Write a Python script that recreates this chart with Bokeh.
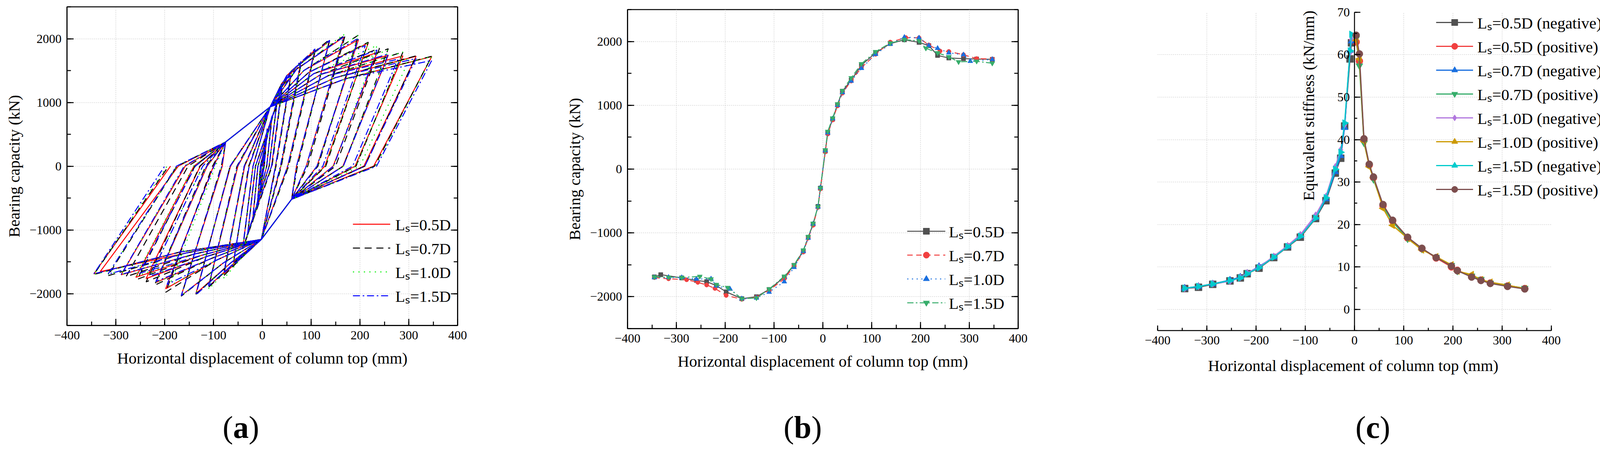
#!/usr/bin/env python3

import math

from bokeh.embed import file_html
from bokeh.layouts import column, row
from bokeh.models import (
    CustomJSTickFormatter,
    Div,
    FixedTicker,
    Label,
    Legend,
    LegendItem,
    LinearAxis,
    Range1d,
    SingleIntervalTicker,
    Title,
)
from bokeh.plotting import figure
from bokeh.resources import INLINE

FONT = "Liberation Serif"
labels = ["L\u209b=0.5D", "L\u209b=0.7D", "L\u209b=1.0D", "L\u209b=1.5D"]

# skeleton points per loading cycle (small -> large amplitude)
pos_d_05 = [5, 10, 20, 30, 40, 58, 79, 108, 138, 167, 197, 217, 235, 258, 288, 315, 347]
pos_f_05 = [282, 567, 782, 1010, 1220, 1394, 1629, 1822, 1967, 2027, 1986, 1935, 1782, 1741, 1731, 1725, 1720]
neg_d_05 = [-5, -10, -20, -30, -40, -59, -79, -110, -136, -166, -198, -218, -238, -259, -289, -332, -345]
neg_f_05 = [-299, -586, -863, -1068, -1283, -1508, -1693, -1887, -2000, -2031, -1924, -1826, -1764, -1745, -1705, -1655, -1690]

pos_d_07 = [5, 10, 20, 30, 40, 58, 79, 108, 138, 170, 197, 217, 240, 258, 288, 315, 347]
pos_f_07 = [270, 550, 770, 990, 1190, 1380, 1590, 1800, 1990, 2060, 2057, 1945, 1850, 1843, 1792, 1731, 1725]
neg_d_07 = [-5, -10, -20, -30, -40, -59, -79, -110, -136, -166, -198, -221, -238, -256, -279, -316, -345]
neg_f_07 = [-310, -600, -880, -1080, -1300, -1520, -1720, -1900, -2010, -2040, -1980, -1870, -1816, -1775, -1734, -1719, -1700]

pos_d_10 = [5, 10, 20, 30, 40, 58, 79, 108, 138, 167, 197, 217, 235, 258, 288, 302, 347]
pos_f_10 = [290, 570, 790, 1000, 1200, 1380, 1580, 1800, 1960, 2067, 2057, 1935, 1894, 1822, 1792, 1690, 1720]
neg_d_10 = [-5, -10, -20, -30, -40, -59, -79, -110, -136, -166, -190, -218, -229, -259, -289, -316, -345]
neg_f_10 = [-290, -590, -860, -1080, -1290, -1540, -1764, -1928, -2020, -2031, -1880, -1830, -1720, -1723, -1699, -1695, -1700]

pos_d_15 = [5, 10, 20, 30, 40, 58, 79, 108, 138, 167, 197, 211, 235, 258, 278, 315, 347]
pos_f_15 = [300, 590, 800, 1020, 1230, 1430, 1650, 1840, 1975, 2030, 2010, 1894, 1822, 1760, 1680, 1690, 1659]
neg_d_15 = [-5, -10, -20, -30, -40, -59, -79, -110, -136, -166, -195, -218, -229, -252, -289, -316, -345]
neg_f_15 = [-300, -590, -850, -1060, -1270, -1500, -1680, -1880, -2020, -2031, -1857, -1810, -1723, -1682, -1699, -1695, -1690]

# zero-load crossings after unloading from the positive / negative peak of each cycle
rp_05 = [2, 4, 9, 14, 19, 27, 38, 52, 70, 90, 112, 128, 145, 165, 190, 208, 228]
rn_05 = [-2, -4, -9, -14, -19, -27, -36, -50, -65, -82, -100, -113, -127, -140, -158, -172, -188]
rp_07 = [2, 4, 9, 14, 20, 28, 39, 54, 72, 93, 114, 130, 150, 166, 192, 210, 230]
rn_07 = [-2, -4, -9, -14, -19, -28, -37, -52, -66, -84, -102, -116, -128, -138, -152, -175, -192]
rp_10 = [2, 4, 9, 14, 19, 27, 38, 53, 71, 91, 113, 129, 146, 166, 192, 200, 232]
rn_10 = [-2, -4, -9, -14, -19, -27, -37, -51, -66, -83, -96, -114, -122, -141, -160, -174, -195]
rp_15 = [2, 4, 9, 14, 19, 27, 37, 52, 70, 90, 112, 124, 146, 166, 185, 210, 234]
rn_15 = [-2, -4, -9, -14, -19, -27, -37, -51, -66, -83, -99, -114, -122, -137, -160, -176, -200]

# pinching points and branch bends shared by the loops (cycles 6..17)
pinch_up = (-75, 380)
knee_up = (16, 930)
pinch_dn = (60, -520)
knee_dn = (-2, -1150)
first_bend = 5
bend_up_x = [33, 40, 50, 60, 70, 85, 95, 105, 120, 135, 150, 170]
bend_up_y = [1190, 1300, 1420, 1500, 1520, 1500, 1470, 1450, 1440, 1420, 1390, 1370]
bend_dn_x = [-30, -40, -52, -65, -80, -95, -105, -115, -125, -140, -155, -170]
bend_dn_y = [-1330, -1420, -1480, -1520, -1520, -1480, -1450, -1420, -1400, -1380, -1360, -1350]

# equivalent stiffness (kN/mm)
neg_x_c = [-6, -9, -20, -28, -39, -58, -79, -110, -136, -164, -194, -218, -232, -253, -288, -317, -345]
pos_x_c = [3.4, 10, 19.3, 30, 38.6, 58, 77.5, 108, 137, 166, 197, 209, 238, 257, 276, 311, 346]
k_05_neg = [62.8, 59.0, 43.2, 35.6, 32.1, 25.6, 21.4, 17.0, 14.7, 12.2, 9.7, 8.4, 7.4, 6.7, 5.9, 5.2, 4.9]
k_05_pos = [63.0, 58.5, 39.8, 34.0, 31.0, 24.4, 20.8, 16.8, 14.3, 12.1, 10.0, 9.2, 7.8, 6.9, 6.2, 5.5, 4.9]
k_07_neg = [63.2, 61.0, 42.8, 36.2, 32.4, 26.0, 21.6, 17.3, 14.8, 12.3, 10.1, 8.5, 7.6, 6.9, 6.0, 5.4, 5.0]
k_07_pos = [63.8, 57.4, 39.2, 34.0, 30.6, 24.2, 20.6, 16.6, 14.2, 12.3, 10.4, 9.0, 7.9, 7.1, 6.2, 5.6, 5.0]
k_10_neg = [63.6, 60.5, 43.5, 37.6, 33.6, 26.6, 22.2, 17.6, 15.0, 12.5, 9.9, 8.6, 7.5, 6.6, 6.0, 5.4, 4.9]
k_10_pos = [63.4, 59.0, 39.6, 33.6, 31.0, 23.8, 19.8, 16.7, 14.0, 12.4, 10.5, 9.0, 8.2, 7.0, 6.4, 5.7, 4.9]
k_15_neg = [64.8, 60.9, 43.9, 37.0, 33.0, 26.3, 21.5, 17.2, 14.8, 12.3, 9.8, 8.4, 7.4, 6.8, 6.0, 5.4, 4.97]
k_15_pos = [64.6, 60.2, 40.2, 34.2, 31.2, 24.7, 21.0, 17.0, 14.4, 12.2, 10.2, 9.1, 7.6, 6.8, 6.1, 5.4, 4.8]

minus_fmt = "return tick < 0 ? '\u2212' + (-tick) : String(tick);"
X_LABEL = "Horizontal displacement of column top (mm)"


def hysteresis(pos_d, pos_f, neg_d, neg_f, rp, rn):
    xs, ys = [0], [0]

    def add(pt):
        xs.append(pt[0])
        ys.append(pt[1])

    for i in range(len(pos_d)):
        big = i >= first_bend
        if big:
            if xs[-1] < pinch_up[0]:
                add(pinch_up)
            add(knee_up)
            add((bend_up_x[i - first_bend], bend_up_y[i - first_bend]))
        add((pos_d[i], pos_f[i]))
        add((rp[i], 0))
        if big:
            if rp[i] > pinch_dn[0]:
                add(pinch_dn)
            add(knee_dn)
            add((bend_dn_x[i - first_bend], bend_dn_y[i - first_bend]))
        add((neg_d[i], neg_f[i]))
        add((rn[i], 0))
    return xs, ys


def style_axis(ax, interval, tick_in=17, minor_in=10):
    ax.ticker = SingleIntervalTicker(interval=interval, num_minor_ticks=2)
    ax.formatter = CustomJSTickFormatter(code=minus_fmt)
    ax.major_tick_in = tick_in
    ax.major_tick_out = 0
    ax.minor_tick_in = minor_in
    ax.minor_tick_out = 0
    for attr in ["axis_line", "major_tick_line", "minor_tick_line"]:
        setattr(ax, attr + "_width", 2.5)
        setattr(ax, attr + "_color", "black")
    ax.major_label_text_font = FONT
    ax.major_label_text_font_size = "32px"
    ax.major_label_text_color = "black"
    ax.major_label_standoff = 14
    ax.axis_label_text_font = FONT
    ax.axis_label_text_font_size = "41px"
    ax.axis_label_text_font_style = "normal"
    ax.axis_label_text_color = "black"
    ax.axis_label_standoff = 22


def style_grid(p):
    for g in (p.xgrid[0], p.ygrid[0]):
        g.grid_line_color = "#c8c8c8"
        g.grid_line_dash = "2 3"
        g.grid_line_width = 1.5


def boxed_fig(left, right, top, bottom, width):
    p = figure(
        width=width,
        height=1000,
        title=None,
        x_range=Range1d(-400, 400),
        y_range=Range1d(-2500, 2500),
        output_backend="svg",
        toolbar_location=None,
        min_border_left=left,
        min_border_right=right,
        min_border_top=top,
        min_border_bottom=bottom,
    )
    p.outline_line_color = "black"
    p.outline_line_width = 2.5
    p.outline_line_alpha = 1
    style_axis(p.xaxis[0], 100)
    style_axis(p.yaxis[0], 1000)
    p.xaxis.axis_label = X_LABEL
    p.yaxis.axis_label = "Bearing capacity (kN)"
    p.yaxis.axis_label_standoff = 13
    right_ax = LinearAxis()
    style_axis(right_ax, 1000)
    right_ax.major_label_text_color = None
    right_ax.major_label_standoff = 0
    p.add_layout(right_ax, "right")
    style_grid(p)
    return p


def panel_tag(letter, width, pad_left):
    html = (
        f'<div style="padding-left:{pad_left}px;padding-top:53px;font-family:\'{FONT}\';'
        f'font-size:80px;line-height:80px;color:black;white-space:nowrap">(<b>{letter}</b>)</div>'
    )
    return Div(text=html, width=width, height=158, margin=(0, 0, 0, 0))


def make_legend(items, loc, glyph_width, standoff):
    return Legend(
        items=items,
        location=loc,
        glyph_width=glyph_width,
        glyph_height=40,
        label_height=40,
        label_standoff=standoff,
        spacing=5,
        padding=0,
        margin=0,
        label_text_font=FONT,
        label_text_font_size="41px",
        label_text_color="black",
        background_fill_alpha=0,
        border_line_alpha=0,
    )


# (a) hysteresis loops
pa = boxed_fig(171, 199, 17, 168, 1370)
loops = [
    (pos_d_05, pos_f_05, neg_d_05, neg_f_05, rp_05, rn_05, "#ff0000", "solid"),
    (pos_d_07, pos_f_07, neg_d_07, neg_f_07, rp_07, rn_07, "#000000", "18 12"),
    (pos_d_10, pos_f_10, neg_d_10, neg_f_10, rp_10, rn_10, "#00ee00", "3 11"),
    (pos_d_15, pos_f_15, neg_d_15, neg_f_15, rp_15, rn_15, "#0000ff", "18 7 4 7"),
]
items_a = []
for lab, (pd_, pf, nd, nf, rp, rn, col, dash) in zip(labels, loops):
    xs, ys = hysteresis(pd_, pf, nd, nf, rp, rn)
    r = pa.line(xs, ys, line_color=col, line_width=2.5, line_dash=dash)
    items_a.append(LegendItem(label=lab, renderers=[r]))
pa.add_layout(make_legend(items_a, (732, 48), 96, 13))

# (b) skeleton curves
pb = boxed_fig(236, 134, 24, 160, 1370)
skeletons = [
    (pos_d_05, pos_f_05, neg_d_05, neg_f_05, "#515151", "solid", "square", 11),
    (pos_d_07, pos_f_07, neg_d_07, neg_f_07, "#F14040", "14 9", "circle", 11),
    (pos_d_10, pos_f_10, neg_d_10, neg_f_10, "#1A6FDF", "3 9", "triangle", 13),
    (pos_d_15, pos_f_15, neg_d_15, neg_f_15, "#37AD6B", "16 6 4 6", "inverted_triangle", 13),
]
items_b = []
for lab, (pd_, pf, nd, nf, col, dash, mk, sz) in zip(labels, skeletons):
    xs = list(reversed(nd)) + pd_
    ys = list(reversed(nf)) + pf
    r1 = pb.line(xs, ys, line_color=col, line_width=2.5, line_dash=dash)
    r2 = pb.scatter(xs, ys, marker=mk, size=sz, fill_color=col, line_color=col)
    items_b.append(LegendItem(label=lab, renderers=[r1, r2]))
pb.add_layout(make_legend(items_b, (716, 38), 98, 9))

# (c) equivalent stiffness; the frame runs on to the right edge so the legend is not clipped
pc = figure(
    width=1372,
    height=1000,
    title=None,
    x_range=Range1d(-400, 512),
    y_range=Range1d(-5, 72.2),
    output_backend="svg",
    toolbar_location=None,
    min_border_left=223,
    min_border_right=0,
    min_border_top=7,
    min_border_bottom=155,
)
pc.outline_line_color = None
style_axis(pc.xaxis[0], 100, tick_in=13, minor_in=7)
style_axis(pc.yaxis[0], 10, tick_in=15, minor_in=7)
pc.xaxis.bounds = (-400, 400)
pc.yaxis.bounds = (-5, 70)
pc.yaxis.fixed_location = 0
pc.yaxis.major_label_standoff = 12
pc.xgrid.ticker = FixedTicker(ticks=[-300, -200, -100, 100, 200, 300])
pc.ygrid.ticker = FixedTicker(ticks=[0, 10, 20, 30, 40, 50, 60])
pc.xgrid.cross_bounds = (-5, 70)
pc.ygrid.cross_bounds = (-400, 400)
style_grid(pc)
# x label centred under the bounded axis, not under the wider frame
pc.add_layout(
    Title(
        text=X_LABEL,
        align="left",
        offset=129,
        standoff=52,
        text_font=FONT,
        text_font_size="41px",
        text_font_style="normal",
        text_color="black",
    ),
    "below",
)

stiff = [
    ("L\u209b=0.5D (negative)", neg_x_c, k_05_neg, "#515151", "square", 0),
    ("L\u209b=0.5D (positive)", pos_x_c, k_05_pos, "#F14040", "circle", 0),
    ("L\u209b=0.7D (negative)", neg_x_c, k_07_neg, "#1A6FDF", "triangle", 0),
    ("L\u209b=0.7D (positive)", pos_x_c, k_07_pos, "#37AD6B", "inverted_triangle", 0),
    ("L\u209b=1.0D (negative)", neg_x_c, k_10_neg, "#B177DE", "diamond", 0),
    ("L\u209b=1.0D (positive)", pos_x_c, k_10_pos, "#CC9900", "triangle", math.pi / 2),
    ("L\u209b=1.5D (negative)", neg_x_c, k_15_neg, "#00CBCC", "triangle", -math.pi / 2),
    ("L\u209b=1.5D (positive)", pos_x_c, k_15_pos, "#7D4E4E", "circle", 0),
]
items_c = []
for lab, xs, ks, col, mk, ang in stiff:
    r1 = pc.line(xs, ks, line_color=col, line_width=3)
    r2 = pc.scatter(xs, ks, marker=mk, size=18, angle=ang, fill_color=col, line_color=col)
    items_c.append(LegendItem(label=lab, renderers=[r1, r2]))
pc.add_layout(make_legend(items_c, (713, 333), 95, 11))
pc.add_layout(
    Label(
        x=-93,
        y=48,
        text="Equivalent stiffness (kN/mm)",
        angle=math.pi / 2,
        text_align="center",
        text_baseline="middle",
        text_font=FONT,
        text_font_size="41px",
        text_color="black",
    )
)

layout = row(
    column(pa, panel_tag("a", 1370, 570)),
    column(pb, panel_tag("b", 1370, 636)),
    column(pc, panel_tag("c", 1372, 730)),
)
open("out.html", "w").write(file_html(layout, INLINE))
